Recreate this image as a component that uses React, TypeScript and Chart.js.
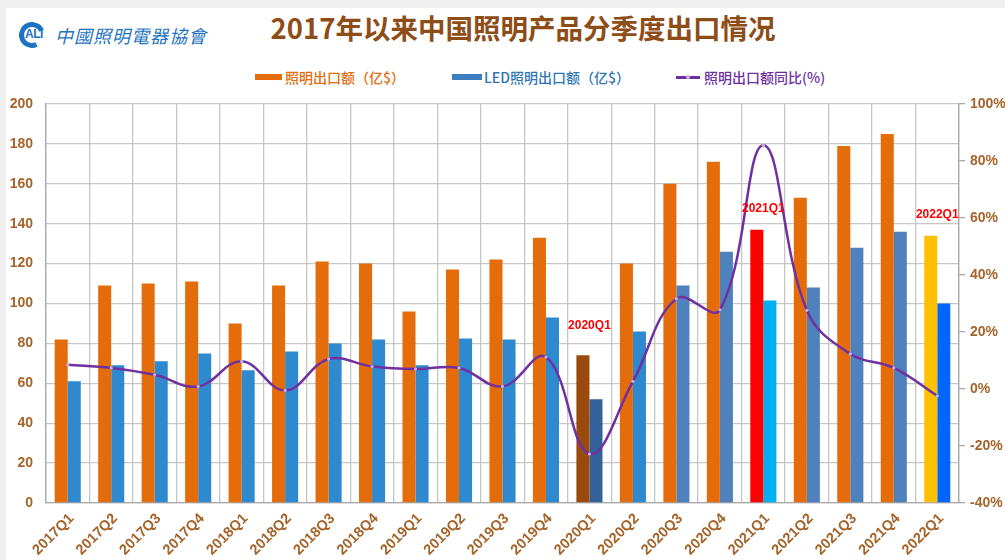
import React, { useEffect, useRef } from "react";
import { Chart, registerables } from "chart.js";

Chart.register(...registerables);

const categories = [
  "2017Q1", "2017Q2", "2017Q3", "2017Q4",
  "2018Q1", "2018Q2", "2018Q3", "2018Q4",
  "2019Q1", "2019Q2", "2019Q3", "2019Q4",
  "2020Q1", "2020Q2", "2020Q3", "2020Q4",
  "2021Q1", "2021Q2", "2021Q3", "2021Q4",
  "2022Q1",
];

const lightingExport = [82, 109, 110, 111, 90, 109, 121, 120, 96, 117, 122, 133, 74, 120, 160, 171, 137, 153, 179, 185, 134];
const ledExport = [61, 69, 71, 75, 66.5, 76, 80, 82, 69, 82.5, 82, 93, 52, 86, 109, 126, 101.5, 108, 128, 136, 100];
const yoyGrowth = [8.5, 7.4, 5.0, 0.9, 9.7, -0.5, 10.5, 7.9, 7.0, 7.4, 0.9, 11.2, -22.8, 2.7, 31.7, 27.8, 85.5, 27.6, 12.3, 7.4, -2.4];

const highlightLabels = ["2020Q1", "2021Q1", "2022Q1"];

const seriesNames = ["照明出口额（亿$）", "LED照明出口额（亿$）", "照明出口额同比(%)"];

const ORANGE = "#E46C0A";
const TICK = "#A5642A";
const GRID = "#c6c6c6";

const orangeColors = categories.map((c) =>
  c === "2020Q1" ? "#9A4A0C" : c === "2021Q1" ? "#FF0000" : c === "2022Q1" ? "#FFC000" : ORANGE
);
const blueColors = categories.map((c, i) =>
  c === "2020Q1" ? "#34619A" : c === "2021Q1" ? "#00B0F0" : c === "2022Q1" ? "#0066FF" : i >= 14 ? "#4F81BD" : "#2F89CF"
);

const labelPlugin = {
  id: "highlightLabels",
  afterDatasetsDraw(chart: any) {
    const ctx = chart.ctx;
    const xs = chart.scales.x;
    const ys = chart.scales.y;
    ctx.save();
    ctx.font = "bold 12px 'Liberation Sans', Arial, sans-serif";
    ctx.fillStyle = "#FF0000";
    ctx.textAlign = "center";
    ctx.textBaseline = "middle";
    highlightLabels.forEach((lab) => {
      const i = categories.indexOf(lab);
      const x = xs.getPixelForValue(i);
      const top = ys.getPixelForValue(lightingExport[i]);
      const off = lab === "2020Q1" ? 30 : 21;
      ctx.fillText(lab, x, top - off);
    });
    ctx.restore();
  },
};

export default function App() {
  const ref = useRef<HTMLCanvasElement | null>(null);

  useEffect(() => {
    if (!ref.current) return;
    const tickFont = { family: "'Liberation Sans', Arial, sans-serif", size: 14, weight: "bold" as const };
    const xFont = { family: "'Liberation Sans', Arial, sans-serif", size: 14.5, weight: "bold" as const };
    const chart = new Chart(ref.current, {
      type: "bar",
      data: {
        labels: categories,
        datasets: [
          {
            type: "line" as const,
            label: seriesNames[2],
            data: yoyGrowth,
            yAxisID: "y1",
            borderColor: "#7030A0",
            borderWidth: 2.5,
            tension: 0.4,
            pointRadius: 1.6,
            pointBackgroundColor: "#C9B3E2",
            pointBorderWidth: 0,
            order: 0,
          } as any,
          {
            label: seriesNames[0],
            data: lightingExport,
            backgroundColor: orangeColors,
            yAxisID: "y",
            categoryPercentage: 0.6,
            barPercentage: 1.0,
            order: 1,
          },
          {
            label: seriesNames[1],
            data: ledExport,
            backgroundColor: blueColors,
            yAxisID: "y",
            categoryPercentage: 0.6,
            barPercentage: 1.0,
            order: 1,
          },
        ],
      },
      options: {
        responsive: false,
        animation: false,
        devicePixelRatio: 1,
        layout: { padding: { top: 104, left: 0, right: 0, bottom: 0 } },
        plugins: { legend: { display: false }, tooltip: { enabled: false }, title: { display: false } },
        scales: {
          x: {
            offset: true,
            grid: { display: true, offset: true, color: GRID, lineWidth: 1.3, drawTicks: false },
            border: { color: "#a8a8a8", width: 1.3 },
            ticks: { maxRotation: 45, minRotation: 45, color: TICK, font: xFont, padding: 7, labelOffset: 4, autoSkip: false },
            afterFit: (s: any) => { s.height = 57; },
          },
          y: {
            position: "left",
            min: 0,
            max: 200,
            ticks: { stepSize: 20, color: TICK, font: tickFont, padding: 13 },
            grid: { color: GRID, lineWidth: 1.3, drawTicks: false },
            border: { color: "#a8a8a8", width: 1.3 },
            afterFit: (s: any) => { s.width = 46; },
          },
          y1: {
            position: "right",
            min: -40,
            max: 100,
            ticks: { stepSize: 20, color: TICK, font: tickFont, padding: 5, callback: (v: any) => v + "%" },
            grid: { drawOnChartArea: false, color: "#a8a8a8", tickLength: 6, lineWidth: 1.3 },
            border: { color: "#a8a8a8", width: 1.3 },
            afterFit: (s: any) => { s.width = 46; },
          },
        },
      },
      plugins: [labelPlugin],
    });
    return () => chart.destroy();
  }, []);

  const legendText: React.CSSProperties = {
    position: "absolute",
    top: 68,
    fontFamily: "'Noto Sans CJK SC', sans-serif",
    fontSize: 14,
    fontWeight: 500,
    lineHeight: "18px",
    whiteSpace: "nowrap",
  };

  return (
    <div style={{ position: "fixed", left: 0, top: 0, width: 1005, height: 560, background: "#efefef", overflow: "hidden" }}>
      <div style={{ position: "absolute", left: 6, top: 8, right: 0, bottom: 0, background: "#ffffff" }} />
      {/* logo */}
      <div style={{ position: "absolute", left: 19, top: 22, width: 16, height: 16, border: "5px solid #1E73C2", borderRightColor: "transparent", borderRadius: "50%", transform: "rotate(20deg)" }} />
      <div style={{ position: "absolute", left: 25, top: 27, fontFamily: "'Liberation Sans', Arial", fontWeight: "bold", fontSize: 12, color: "#1E73C2", letterSpacing: -0.5 }}>ALI</div>
      <div style={{ position: "absolute", left: 55, top: 22, fontFamily: "'Noto Sans CJK TC', sans-serif", fontSize: 18, lineHeight: "26px", color: "#1E73C2", fontStyle: "italic", letterSpacing: 1, whiteSpace: "nowrap" }}>中國照明電器協會</div>
      {/* title */}
      <div style={{ position: "absolute", left: 0, width: 1046, top: 10, textAlign: "center", fontFamily: "'Noto Sans CJK SC', sans-serif", fontWeight: "bold", fontSize: 27.5, lineHeight: "34px", color: "#8E4C17", whiteSpace: "nowrap" }}>
        2017年以来中国照明产品分季度出口情况
      </div>
      {/* legend */}
      <div style={{ position: "absolute", left: 255, top: 74, width: 27, height: 6, background: ORANGE }} />
      <div style={{ ...legendText, left: 285, color: ORANGE }}>{seriesNames[0]}</div>
      <div style={{ position: "absolute", left: 452, top: 74, width: 30, height: 6, background: "#3A7DC0" }} />
      <div style={{ ...legendText, left: 484, color: "#2E75B6" }}>{seriesNames[1]}</div>
      <div style={{ position: "absolute", left: 676, top: 76, width: 24, height: 2.5, background: "#7030A0" }} />
      <div style={{ position: "absolute", left: 686, top: 75, width: 4, height: 4, borderRadius: 2, background: "#C9B3E2" }} />
      <div style={{ ...legendText, left: 704, color: "#7030A0" }}>{seriesNames[2]}</div>
      <canvas ref={ref} width={1005} height={560} style={{ position: "absolute", left: 0, top: 0, width: 1005, height: 560 }} />
    </div>
  );
}
